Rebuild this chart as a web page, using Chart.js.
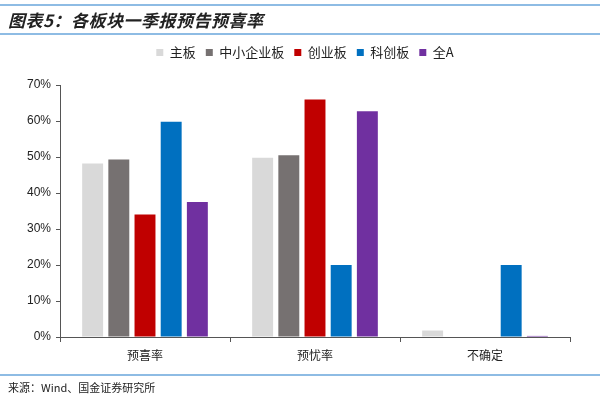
<!DOCTYPE html>
<html>
<head>
<meta charset="utf-8">
<script src="https://cdn.jsdelivr.net/npm/chart.js@4"></script>
<style>
  body { margin: 0; background: #fff; }
  #wrap { position: relative; width: 600px; height: 397px; overflow: hidden; }
  #chart { position: absolute; left: 0; top: 0; }
  .rule { position: absolute; left: 0; width: 600px; height: 2px; background: #8ebce4; }
  #title { position: absolute; left: 8px; top: 7px; font: italic bold 17px "Noto Sans CJK SC"; color: #222; letter-spacing: 0.5px; }
  #source { position: absolute; left: 8px; top: 379px; font: 11px "Noto Sans CJK SC"; color: #222; }
</style>
</head>
<body>
<div id="wrap">
  <canvas id="chart" width="600" height="397"></canvas>
  <div class="rule" style="top:4px"></div>
  <div id="title">图表5：各板块一季报预告预喜率</div>
  <div class="rule" style="top:33px"></div>
  <div class="rule" style="top:374px"></div>
  <div id="source">来源：Wind、国金证券研究所</div>
</div>
<script>
// categories and series (percent)
var categories = ['预喜率', '预忧率', '不确定'];
var zhuban = [48.2, 49.8, 1.8];
var zhongxiao = [49.3, 50.5, 0];
var chuangye = [34.0, 66.0, 0];
var kechuang = [59.8, 20.0, 20.0];
var quanA = [37.5, 62.7, 0.3];
var seriesNames = ['主板', '中小企业板', '创业板', '科创板', '全A'];
var yTicks = [0, 10, 20, 30, 40, 50, 60, 70];

var colors = ['#d9d9d9', '#767171', '#c00000', '#0070c0', '#7030a0'];
var values = [zhuban, zhongxiao, chuangye, kechuang, quanA];

var datasets = [];
for (var i = 0; i < values.length; i++) {
  datasets.push({
    label: seriesNames[i],
    data: values[i],
    backgroundColor: colors[i],
    borderWidth: 0,
    categoryPercentage: 0.77,
    barPercentage: 0.8
  });
}

// push the plot area down below the legend, nudge legend right
var legendGap = {
  id: 'legendGap',
  beforeInit: function (chart) {
    var fit = chart.legend.fit;
    chart.legend.fit = function () {
      fit.bind(chart.legend)();
      this.height += 16;
    };
  },
  afterLayout: function (chart) {
    chart.legend.left += 20;
    chart.legend.right += 20;
  }
};

var ctx = document.getElementById('chart').getContext('2d');
var chart = new Chart(ctx, {
  type: 'bar',
  data: { labels: categories, datasets: datasets },
  plugins: [legendGap],
  options: {
    responsive: false,
    animation: false,
    layout: { padding: { top: 36, right: 30, bottom: 34, left: 0 } },
    plugins: {
      tooltip: { enabled: false },
      legend: {
        display: true,
        position: 'top',
        labels: {
          boxWidth: 7,
          boxHeight: 7,
          padding: 10,
          color: '#222',
          font: { family: 'Noto Sans CJK SC', size: 13 }
        }
      }
    },
    scales: {
      x: {
        grid: { drawOnChartArea: false, tickLength: 5, color: '#555', offset: true },
        border: { color: '#555', width: 1 },
        ticks: { color: '#222', padding: 6, font: { family: 'Noto Sans CJK SC', size: 12 } },
        afterFit: function (scale) { scale.height = 26; }
      },
      y: {
        min: 0,
        max: 70,
        afterBuildTicks: function (scale) {
          scale.ticks = yTicks.map(function (v) { return { value: v }; });
        },
        grid: { drawOnChartArea: false, tickLength: 4, color: '#555' },
        border: { color: '#555', width: 1 },
        ticks: {
          color: '#222',
          padding: 5,
          font: { family: 'Liberation Sans', size: 12 },
          callback: function (v) { return v + '%'; }
        },
        afterFit: function (scale) { scale.width = 60; }
      }
    }
  }
});
</script>
</body>
</html>
